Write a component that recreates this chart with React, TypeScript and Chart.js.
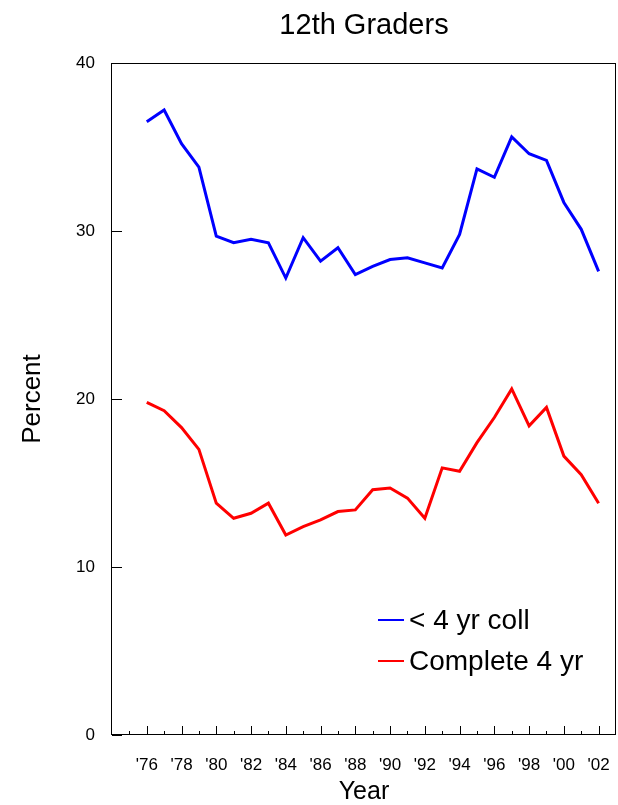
import { useEffect, useRef } from "react";
import { Chart, registerables } from "chart.js";

Chart.register(...registerables);

// ---- data ----
const years = [76, 77, 78, 79, 80, 81, 82, 83, 84, 85, 86, 87, 88, 89, 90, 91, 92, 93, 94, 95, 96, 97, 98, 99, 100, 101, 102];
const lessThan4yrColl = [36.5, 37.2, 35.2, 33.8, 29.7, 29.3, 29.5, 29.3, 27.2, 29.6, 28.2, 29.0, 27.4, 27.9, 28.3, 28.4, 28.1, 27.8, 29.8, 33.7, 33.2, 35.6, 34.6, 34.2, 31.7, 30.1, 27.6];
const complete4yr = [19.8, 19.3, 18.3, 17.0, 13.8, 12.9, 13.2, 13.8, 11.9, 12.4, 12.8, 13.3, 13.4, 14.6, 14.7, 14.1, 12.9, 15.9, 15.7, 17.4, 18.9, 20.6, 18.4, 19.5, 16.6, 15.5, 13.8];
const seriesLabels = ["< 4 yr coll", "Complete 4 yr"];
const seriesColors = ["#0000FF", "#FF0000"];
const yTickValues = [0, 10, 20, 30, 40];
const xLabelYears = [76, 78, 80, 82, 84, 86, 88, 90, 92, 94, 96, 98, 100, 102];
const xMarkYears = [75, ...years];

const FONT = "'Liberation Sans', Arial, Helvetica, sans-serif";

const decorPlugin = {
  id: "decor",
  afterDraw(chart: any) {
    const { ctx, chartArea: a, scales } = chart;
    ctx.save();
    ctx.strokeStyle = "#000";
    ctx.lineWidth = 1;
    // frame
    ctx.strokeRect(a.left - 0.5, a.top + 0.5, a.right - a.left, a.bottom - a.top - 1);
    // y ticks (inward)
    ctx.beginPath();
    yTickValues.forEach((v) => {
      const y = Math.round(scales.y.getPixelForValue(v)) + 0.5;
      ctx.moveTo(a.left, y);
      ctx.lineTo(a.left + 10, y);
    });
    // x ticks (inward)
    xMarkYears.forEach((yr) => {
      const x = Math.round(scales.x.getPixelForValue(yr)) + 0.5;
      const len = yr % 2 === 0 ? 9 : 4;
      ctx.moveTo(x, a.bottom);
      ctx.lineTo(x, a.bottom - len);
    });
    ctx.stroke();

    // legend
    const legendX = 378;
    const legendLineW = 26;
    const rows = [620, 661];
    ctx.font = `28px ${FONT}`;
    ctx.textBaseline = "middle";
    ctx.textAlign = "left";
    chart.data.datasets.forEach((ds: any, i: number) => {
      const y = rows[i];
      ctx.strokeStyle = ds.borderColor;
      ctx.lineWidth = 2;
      ctx.beginPath();
      ctx.moveTo(legendX, y);
      ctx.lineTo(legendX + legendLineW, y);
      ctx.stroke();
      ctx.fillStyle = "#000";
      ctx.fillText(ds.label, legendX + legendLineW + 5, y + 1);
    });
    ctx.restore();
  },
};

export default function App() {
  const ref = useRef<HTMLCanvasElement>(null);

  useEffect(() => {
    if (!ref.current) return;
    const chart = new Chart(ref.current, {
      type: "line",
      data: {
        datasets: [
          {
            label: seriesLabels[0],
            data: years.map((x, i) => ({ x, y: lessThan4yrColl[i] })),
            borderColor: seriesColors[0],
            backgroundColor: seriesColors[0],
            borderWidth: 3,
            pointRadius: 0,
            tension: 0,
          },
          {
            label: seriesLabels[1],
            data: years.map((x, i) => ({ x, y: complete4yr[i] })),
            borderColor: seriesColors[1],
            backgroundColor: seriesColors[1],
            borderWidth: 3,
            pointRadius: 0,
            tension: 0,
          },
        ],
      },
      options: {
        responsive: false,
        animation: false,
        devicePixelRatio: 1,
        layout: { padding: { left: 0, right: 2, top: 0, bottom: 0 } },
        plugins: {
          legend: { display: false },
          tooltip: { enabled: false },
          title: {
            display: true,
            fullSize: false,
            text: "12th Graders",
            color: "#000",
            font: { family: FONT, size: 29, weight: "normal", lineHeight: 1.2 },
            padding: { top: 9, bottom: 19.2 },
          },
        },
        scales: {
          x: {
            type: "linear",
            min: 74,
            max: 103,
            grid: { display: false, drawTicks: false },
            border: { display: false },
            afterBuildTicks: (scale: any) => {
              scale.ticks = xLabelYears.map((v) => ({ value: v }));
            },
            afterFit: (scale: any) => {
              scale.height = 70;
              scale.paddingLeft = 0;
              scale.paddingRight = 0;
            },
            ticks: {
              autoSkip: false,
              maxRotation: 0,
              minRotation: 0,
              padding: 20,
              color: "#000",
              font: { family: FONT, size: 17 },
              callback: (v: any) => "'" + String(Number(v) % 100).padStart(2, "0"),
            },
            title: {
              display: true,
              text: "Year",
              color: "#000",
              font: { family: FONT, size: 25, lineHeight: 1 },
              padding: { top: 0, bottom: 0 },
            },
          },
          y: {
            min: 0,
            max: 40,
            grid: { display: false, drawTicks: false },
            border: { display: false },
            afterBuildTicks: (scale: any) => {
              scale.ticks = yTickValues.map((v) => ({ value: v }));
            },
            afterFit: (scale: any) => {
              scale.width = 112;
              scale.paddingTop = 0;
              scale.paddingBottom = 0;
            },
            ticks: {
              padding: 17,
              color: "#000",
              font: { family: FONT, size: 17 },
            },
            title: {
              display: true,
              text: "Percent",
              color: "#000",
              font: { family: FONT, size: 26, lineHeight: 1.2 },
              padding: { top: 17, bottom: 0 },
            },
          },
        },
      },
      plugins: [decorPlugin],
    } as any);
    return () => chart.destroy();
  }, []);

  return (
    <canvas
      ref={ref}
      width={618}
      height={805}
      style={{ position: "absolute", left: 0, top: 0, width: 618, height: 805, background: "#fff" }}
    />
  );
}
